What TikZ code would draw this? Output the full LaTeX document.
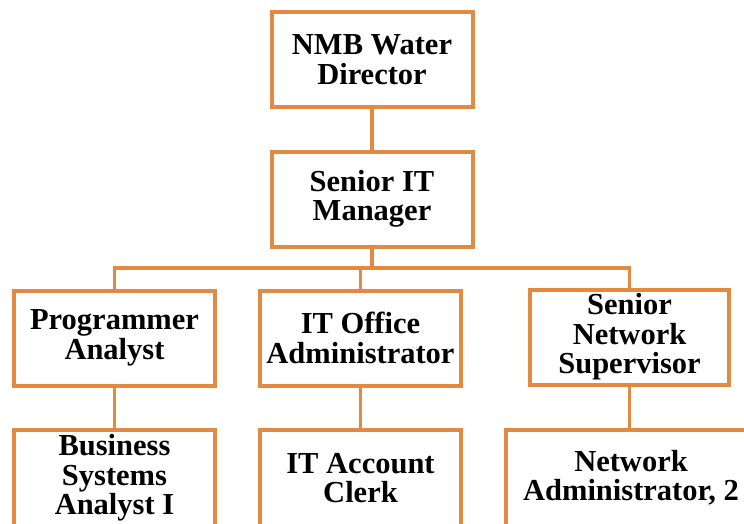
\documentclass[tikz,border=0pt]{standalone}
\usepackage{fontspec}
\setmainfont{Liberation Serif}
\definecolor{orgline}{RGB}{226,137,66}
\begin{document}
\begin{tikzpicture}[x=1pt,y=-1pt,
  box/.style={draw=orgline,line width=4pt,fill=white,rectangle,inner sep=0pt,
    minimum width=201pt,minimum height=95pt,align=center,
    font=\fontsize{30.5}{29.5}\selectfont\bfseries},
  conn/.style={draw=orgline,line width=3.5pt}]
\useasboundingbox (0,0) rectangle (744,523);
\clip (0,0) rectangle (744,523);
\node[box] (dir) at (372,59.5) {NMB Water\\Director};
\node[box] (sit) at (372,199) {Senior IT\\Manager};
\node[box,minimum width=201pt] (pa) at (114.5,338) {Programmer\\Analyst};
\node[box,minimum width=201pt] (ito) at (360.5,338) {IT Office\\Administrator};
\node[box,minimum width=199pt] (sns) at (629.5,337) {Senior\\Network\\Supervisor};
\node[box,minimum width=201pt,minimum height=97pt] (bsa) at (114.5,478) {Business\\Systems\\Analyst I};
\node[box,minimum width=201pt,minimum height=97pt] (ita) at (360.5,478) {IT Account\\Clerk};
\node[box,minimum width=250pt,minimum height=97pt] (na) at (631,478) {Network\\Administrator, 2};
\coordinate (bus) at (372,268);
\draw[conn] (dir.south) -- (sit.north);
\draw[conn] (sit.south) -- (bus);
\draw[conn] (pa.north) |- (bus) -| (sns.north);
\draw[conn] (bus -| ito.north) -- (ito.north);
\draw[conn] (pa.south) -- (bsa.north);
\draw[conn] (ito.south) -- (ita.north);
\draw[conn] (sns.south) -- (sns.south |- na.north);
\end{tikzpicture}
\end{document}
